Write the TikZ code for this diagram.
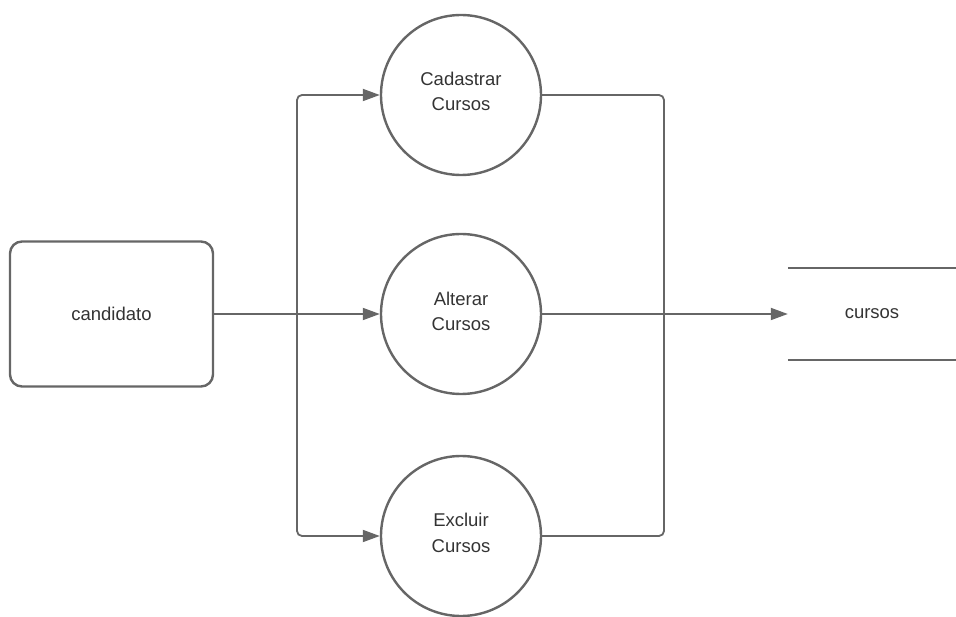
\documentclass[tikz,border=0pt]{standalone}
\usepackage{fontspec}
\setmainfont{Liberation Sans}
\usetikzlibrary{arrows.meta}
\definecolor{linegray}{HTML}{666666}
\definecolor{textgray}{HTML}{333333}
\begin{document}
\begin{tikzpicture}[x=1pt,y=-1pt,
  conn/.style={draw=linegray,line width=1.8pt,rounded corners=5pt},
  arrowconn/.style={conn,-{Triangle[length=17pt,width=12pt]}},
  proc/.style={circle,draw=linegray,line width=2.4pt,minimum size=160pt,inner sep=0pt},
  proctext/.style={align=center,text=textgray,inner sep=0pt,font=\fontsize{18.5}{25.5}\selectfont},
  entity/.style={rectangle,rounded corners=12pt,draw=linegray,line width=2.4pt,
    minimum width=203pt,minimum height=145pt,inner sep=0pt,text=textgray,
    font=\fontsize{18.5}{26}\selectfont},
  storebox/.style={rectangle,minimum width=168pt,minimum height=92pt,inner sep=0pt,
    text=textgray,font=\fontsize{18.5}{26}\selectfont},
  storeline/.style={draw=linegray,line width=2.2pt}]
\useasboundingbox (0,0) rectangle (956,617);
\node[entity] (cand) at (111.5,314) {candidato};
\node[proc] (c1) at (461,95) {};
\node[proc] (c2) at (461,314) {};
\node[proc] (c3) at (461,536) {};
\node[proctext] (t1) at ([yshift=3.5pt]c1.center) {Cadastrar\\Cursos};
\node[proctext] (t2) at ([yshift=2.5pt]c2.center) {Alterar\\Cursos};
\node[proctext] (t3) at ([yshift=3pt]c3.center) {Excluir\\Cursos};
\node[storebox] (store) at (872,314) {cursos};
\coordinate (jl) at (297,314);
\coordinate (jr) at (664,314);
\draw[storeline] (store.north west) -- (store.north east);
\draw[storeline] (store.south west) -- (store.south east);
\draw[arrowconn] (cand.east) -- (c2.west);
\draw[arrowconn] (jl) |- (c1.west);
\draw[arrowconn] (jl) |- (c3.west);
\draw[conn] (c1.east) -| (jr);
\draw[conn] (c3.east) -| (jr);
\draw[arrowconn] (c2.east) -- (store.west);
\end{tikzpicture}
\end{document}
